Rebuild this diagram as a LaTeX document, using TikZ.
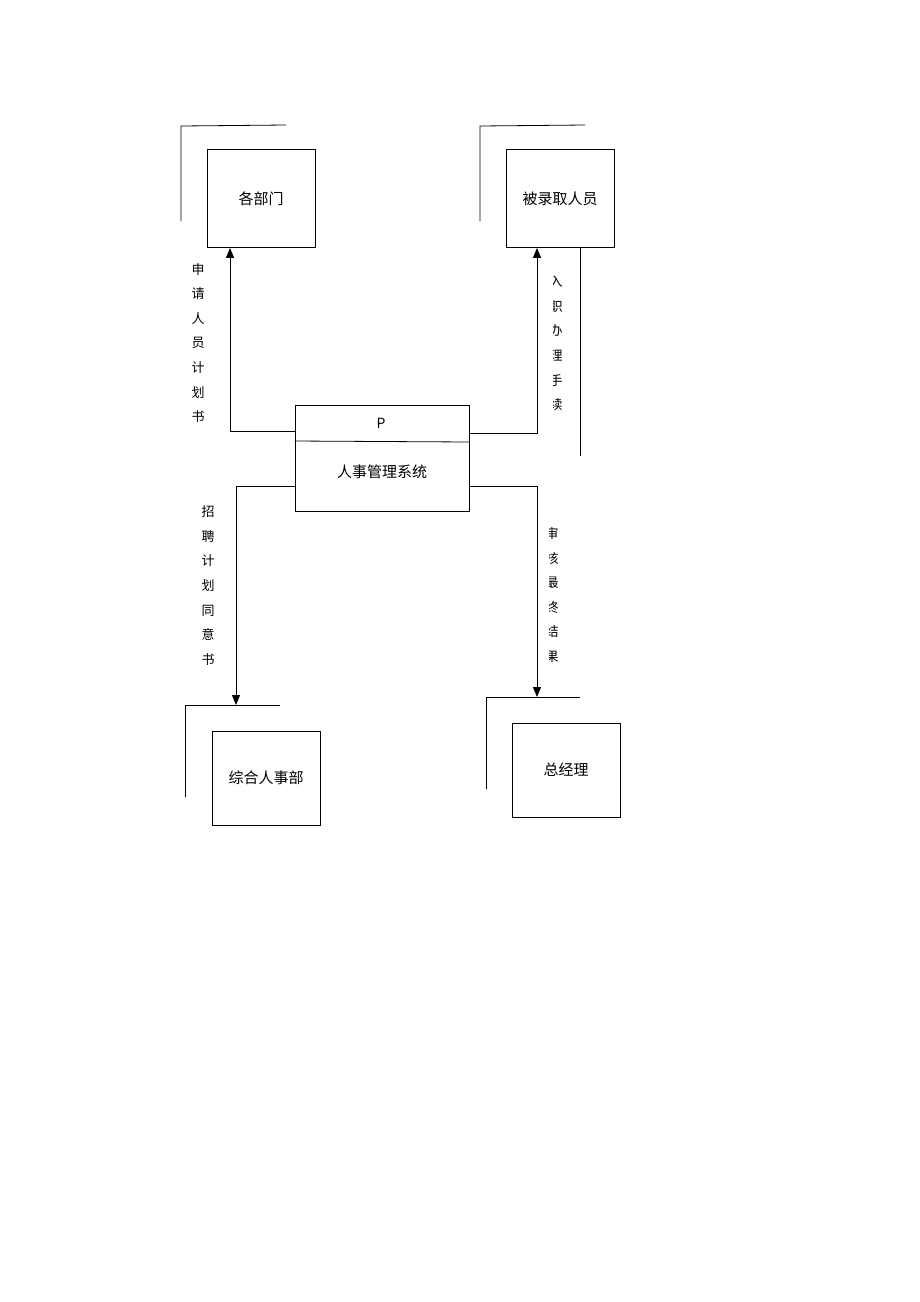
\documentclass[tikz,border=0pt]{standalone}
\usepackage{fontspec}
\newfontfamily\cjk{Noto Sans CJK SC}
\usetikzlibrary{arrows.meta}

\tikzset{
  entity/.style={draw,line width=0.8pt,minimum width=108pt,minimum height=98pt,inner sep=0pt,font=\cjk\fontsize{15}{18}\selectfont},
  procbox/.style={draw,line width=0.8pt,minimum width=174pt,minimum height=106pt,inner sep=0pt},
  flowlabel/.style={align=center,inner sep=0pt,font=\cjk\fontsize{13}{24.6}\selectfont},
  flow/.style={line width=1pt,-{Triangle[length=10pt,width=8pt]}},
  frame/.style={line width=0.8pt}
}

\begin{document}
\begin{tikzpicture}[x=1pt,y=-1pt]
  \useasboundingbox[fill=white] (0,0) rectangle (920,1302);
  % external entities
  \node[entity] (bm) at (261,198.5) {各部门};
  \node[entity] (lq) at (560,198.5) {被录取人员};
  \node[entity,minimum height=94pt] (zh) at (266,778) {综合人事部};
  \node[entity,minimum height=94pt] (zj) at (566,770) {总经理};
  % corner marks
  \coordinate (bmc) at (181,126);
  \coordinate (lqc) at (480,126);
  \coordinate (zhc) at (185,705);
  \coordinate (zjc) at (486,697);
  \draw[frame] (181,221) -- (bmc) -- (286,125);
  \draw[frame] (480,221) -- (lqc) -- (585,125);
  \draw[frame] (185,797) -- (zhc) -- (280,705);
  \draw[frame] (486,789) -- (zjc) -- (580,697);
  % process
  \node[procbox] (sys) at (382,458) {};
  \draw[frame] (sys.west |- 0,441) -- (sys.east |- 0,442);
  \node[font=\cjk\fontsize{14}{16}\selectfont] (p) at (381,423) {P};
  \node[font=\cjk\fontsize{15}{18}\selectfont] (name) at (382,472) {人事管理系统};
  % data flows
  \coordinate (c1) at (230,431);
  \coordinate (c2) at (537,433);
  \coordinate (c3) at (236,486);
  \coordinate (c4) at (537,486);
  \draw[flow] (sys.west |- c1) -- (c1) -- (c1 |- bm.south);
  \draw[flow] (sys.east |- c2) -- (c2) -- (c2 |- lq.south);
  \draw[flow] (sys.west |- c3) -- (c3) -- (c3 |- zhc);
  \draw[flow] (sys.east |- c4) -- (c4) -- (c4 |- zjc);
  % flow labels
  \node[flowlabel] (l1) at (198,343) {申\\请\\人\\员\\计\\划\\书};
  \node[flowlabel] (l2) at (208,585.5) {招\\聘\\计\\划\\同\\意\\书};
  \begin{scope}
    \clip (553.5,262) rectangle (575,425);
    \node[flowlabel] (l3) at (556,343.4) {入\\职\\办\\理\\手\\续};
  \end{scope}
  \begin{scope}
    \clip (549.5,515) rectangle (575,675);
    \node[flowlabel] (l4) at (552,595) {审\\核\\最\\终\\结\\果};
  \end{scope}
  \draw[frame] (580,248) -- (580,456);
\end{tikzpicture}
\end{document}
